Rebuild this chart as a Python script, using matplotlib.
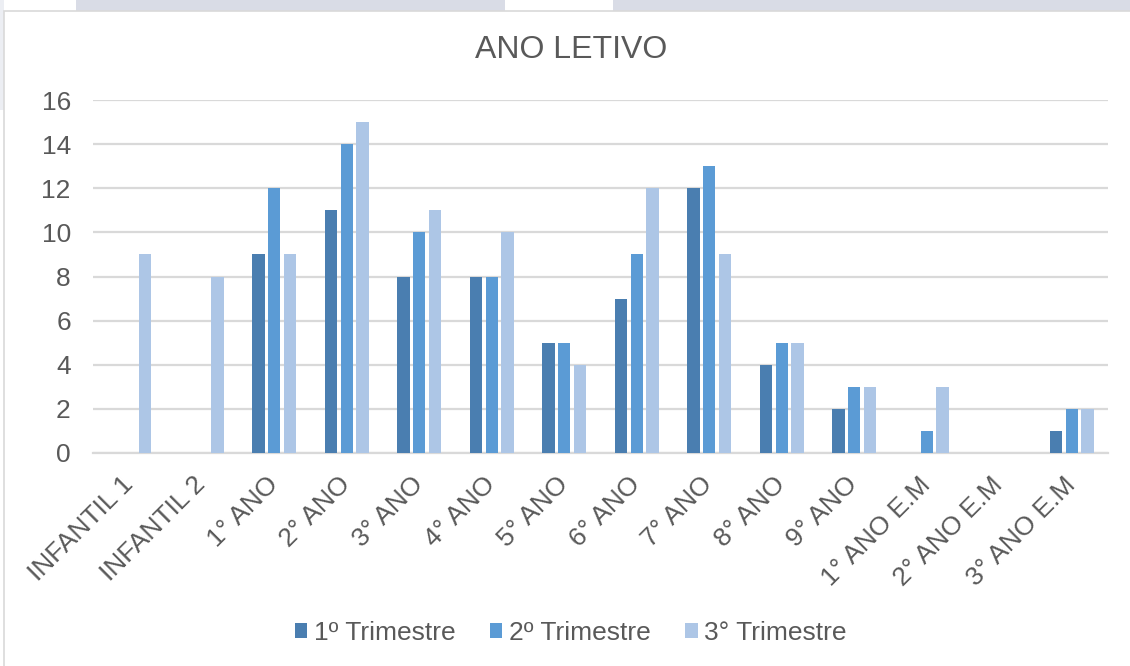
"""
Ano letivo - grouped bars per trimestre
"""

import numpy as np
import matplotlib.pyplot as plt
from matplotlib.patches import Rectangle

categories = ["INFANTIL 1", "INFANTIL 2", "1° ANO", "2° ANO", "3° ANO", "4° ANO",
              "5° ANO", "6° ANO", "7° ANO", "8° ANO", "9° ANO",
              "1° ANO E.M", "2° ANO E.M", "3° ANO E.M"]
tri1 = [0, 0, 9, 11, 8, 8, 5, 7, 12, 4, 2, 0, 0, 1]
tri2 = [0, 0, 12, 14, 10, 8, 5, 9, 13, 5, 3, 1, 0, 2]
tri3 = [9, 8, 9, 15, 11, 10, 4, 12, 9, 5, 3, 3, 0, 2]
series_names = ["1º Trimestre", "2º Trimestre", "3° Trimestre"]
yticks = [0, 2, 4, 6, 8, 10, 12, 14, 16]

colors = ["#4a7eb0", "#5b9bd5", "#adc6e6"]
text_color = "#595959"
grid_color = "#d9d9d9"

plt.rcParams["font.family"] = ["Liberation Sans", "DejaVu Sans"]

fig = plt.figure(figsize=(11.3, 6.66), dpi=100)
W, H = 1130, 666

# background behind the chart box (page watermark shapes)
bg = fig.add_axes([0, 0, 1, 1])
bg.set_xlim(0, W)
bg.set_ylim(H, 0)
bg.axis("off")
bg.add_patch(Rectangle((76, 0), W, 12, color="#d9dce6", lw=0))
bg.add_patch(Rectangle((505, 0), 108, 12, color="white", lw=0))
bg.add_patch(Rectangle((0, 0), 4, 110, color="#eceef3", lw=0))
bg.add_patch(Rectangle((3.5, 10.5), W + 10, H, facecolor="white",
                       edgecolor="#d9d9d9", lw=1.2))

ax = fig.add_axes([93 / W, 1 - 453 / H, (1108 - 93) / W, (453 - 100) / H])
ax.set_facecolor("none")

x = np.arange(len(categories))
bw = 0.17
offsets = [-0.217, 0.0, 0.217]
for vals, off, col, name in zip([tri1, tri2, tri3], offsets, colors, series_names):
    ax.bar(x + off, vals, width=bw, color=col, label=name, zorder=3)

ax.set_xlim(-0.5, len(categories) - 0.5)
ax.set_ylim(0, 16)
ax.set_yticks(yticks)
ax.set_yticklabels([str(v) for v in yticks], fontsize=19, color=text_color)
ax.yaxis.grid(True, color=grid_color, lw=1.6, zorder=0)
ax.tick_params(axis="y", length=0, pad=16)
ax.tick_params(axis="x", length=0, pad=14)

ax.set_xticks(x - 0.12)
ax.set_xticklabels(categories, rotation=45, ha="right", va="top",
                   rotation_mode="anchor", fontsize=19, color=text_color)

for side in ["top", "right", "left"]:
    ax.spines[side].set_visible(False)
ax.spines["bottom"].set_color(grid_color)
ax.spines["bottom"].set_linewidth(1.6)

fig.text(0.505, 1 - 50 / H, "ANO LETIVO", ha="center", va="center",
         fontsize=23, color=text_color)

fig.legend(loc="center", bbox_to_anchor=(0.505, 1 - 633 / H), ncol=3,
           frameon=False, fontsize=19, labelcolor=text_color,
           handlelength=0.48, handleheight=0.48, handletextpad=0.25,
           columnspacing=1.3)

fig.savefig("out.png", dpi=100)
plt.close(fig)
